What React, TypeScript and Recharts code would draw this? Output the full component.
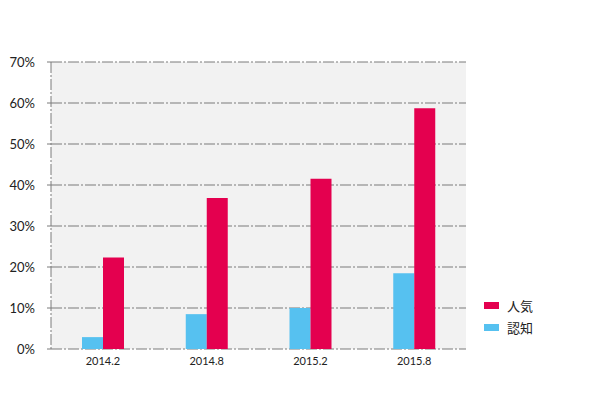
import { BarChart, Bar, XAxis, YAxis, CartesianGrid } from "recharts";

const categories = ["2014.2", "2014.8", "2015.2", "2015.8"];
const awareness = [2.9, 8.5, 10.0, 18.5];
const popularity = [22.3, 36.8, 41.5, 58.7];
const yTicks = [0, 10, 20, 30, 40, 50, 60, 70];

const legendItems = [
  { label: "人気", color: "#e4004f" },
  { label: "認知", color: "#56c1f0" },
];

const data = categories.map((name, i) => ({
  name,
  awareness: awareness[i],
  popularity: popularity[i],
}));

const gridStroke = "#7a7a7a";
const dashDot = "11 2 2 2";

function SideLegend() {
  return (
    <div style={{ fontFamily: "'Noto Sans CJK JP', sans-serif", fontSize: 13, color: "#222" }}>
      {legendItems.map((item) => (
        <div key={item.label} style={{ display: "flex", alignItems: "center", height: 22 }}>
          <span
            style={{
              display: "inline-block",
              width: 15,
              height: 7,
              background: item.color,
              marginRight: 8,
            }}
          />
          {item.label}
        </div>
      ))}
    </div>
  );
}

export default function App() {
  return (
    <div style={{ position: "relative", width: 595, height: 417, margin: -8, background: "#fff" }}>
      <BarChart
        width={595}
        height={417}
        data={data}
        margin={{ top: 62, right: 129, bottom: 38, left: 0 }}
        barGap={0}
      >
        <CartesianGrid
          vertical={false}
          fill="#f2f2f2"
          stroke={gridStroke}
          strokeDasharray={dashDot}
        />
        <XAxis
          dataKey="name"
          height={30}
          axisLine={false}
          tickLine={false}
          tickSize={0}
          tickMargin={8}
          tick={{ fontSize: 11, fill: "#222", fontFamily: "Lato, sans-serif" }}
        />
        <YAxis
          width={51}
          domain={[0, 70]}
          ticks={yTicks}
          interval={0}
          tickFormatter={(v) => `${v}%`}
          axisLine={{ stroke: gridStroke, strokeDasharray: dashDot }}
          tickLine={{ stroke: gridStroke }}
          tickSize={4}
          tickMargin={12}
          tick={{ fontSize: 13, fill: "#222", fontFamily: "Lato, sans-serif" }}
        />
        <Bar dataKey="awareness" fill="#56c1f0" barSize={21} isAnimationActive={false} />
        <Bar dataKey="popularity" fill="#e4004f" barSize={21} isAnimationActive={false} />
      </BarChart>
      <div style={{ position: "absolute", left: 484, top: 294 }}>
        <SideLegend />
      </div>
    </div>
  );
}
